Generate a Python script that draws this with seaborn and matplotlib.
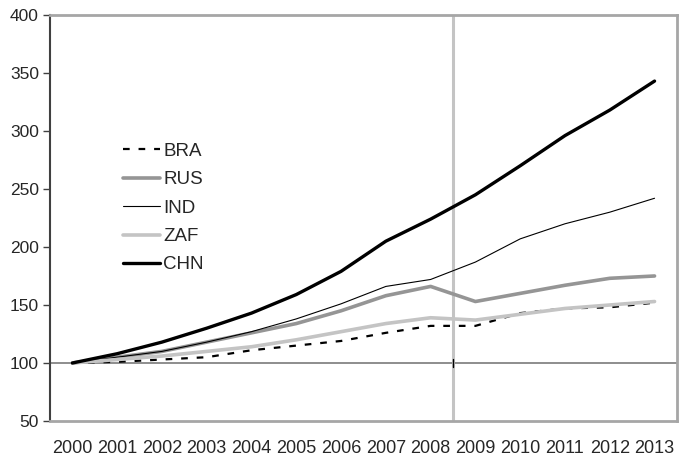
import numpy as np
import pandas as pd
import matplotlib
matplotlib.use("Agg")
import matplotlib.pyplot as plt
import seaborn as sns

# ------------- Data -------------
years = list(range(2000, 2014))
bra = [100, 101, 103, 105, 111, 115, 119, 126, 132, 132, 143, 147, 148, 152]
rus = [100, 105, 110, 118, 126, 134, 145, 158, 166, 153, 160, 167, 173, 175]
ind = [100, 105, 110, 118, 127, 138, 151, 166, 172, 187, 207, 220, 230, 242]
zaf = [100, 103, 106, 110, 114, 120, 127, 134, 139, 137, 142, 147, 150, 153]
chn = [100, 108, 118, 130, 143, 159, 179, 205, 224, 245, 270, 296, 318, 343]
countries = ["BRA", "RUS", "IND", "ZAF", "CHN"]

df = pd.DataFrame({"year": years, "BRA": bra, "RUS": rus, "IND": ind, "ZAF": zaf, "CHN": chn})
long_df = df.melt(id_vars="year", var_name="country", value_name="index")

# line styles per country
styles = {
    "BRA": dict(color="black", lw=1.6, ls=(0, (3, 4))),
    "RUS": dict(color="#959595", lw=2.6, ls="-"),
    "IND": dict(color="black", lw=0.8, ls="-"),
    "ZAF": dict(color="#c4c4c4", lw=2.6, ls="-"),
    "CHN": dict(color="black", lw=2.4, ls="-"),
}

# ------------- Plot -------------
sns.set_style("white")
plt.rcParams["font.family"] = ["Liberation Sans", "DejaVu Sans"]

fig = plt.figure(figsize=(6.8, 4.63), dpi=100)
ax = fig.add_axes([0.0735, 0.0907, 0.922, 0.877])

# reference lines
ax.axhline(100, color="#7a7a7a", lw=1.2, zorder=1)
ax.axvline(2008.5, color="#c4c4c4", lw=2.2, zorder=1)
ax.plot([2008.5, 2008.5], [96.5, 103.5], color="black", lw=1, zorder=2)

for c in countries:
    st = styles[c]
    sns.lineplot(data=long_df[long_df["country"] == c], x="year", y="index",
                 ax=ax, label=c, color=st["color"], linewidth=st["lw"],
                 linestyle=st["ls"], zorder=3)

ax.set_xlim(1999.5, 2013.5)
ax.set_ylim(50, 400)
ax.set_yticks(np.arange(50, 401, 50))
ax.set_xticks(years)
ax.set_xticklabels([str(y) for y in years])
ax.set_xlabel("")
ax.set_ylabel("")
ax.tick_params(axis="x", length=0, pad=14, labelsize=13)
ax.tick_params(axis="y", length=5, width=1, color="#404040", direction="out", pad=3, labelsize=12.5)
ax.yaxis.set_ticks_position("left")

for side in ["top", "right", "bottom"]:
    ax.spines[side].set_color("#a6a6a6")
    ax.spines[side].set_linewidth(2)
ax.spines["left"].set_color("#404040")
ax.spines["left"].set_linewidth(1.5)

leg = ax.legend(loc="upper left", bbox_to_anchor=(0.1164, 0.685), frameon=False,
                borderaxespad=0, borderpad=0,
                fontsize=13.5, handlelength=2.0, handletextpad=0.15, labelspacing=0.6)

fig.savefig("out.png", dpi=100)
